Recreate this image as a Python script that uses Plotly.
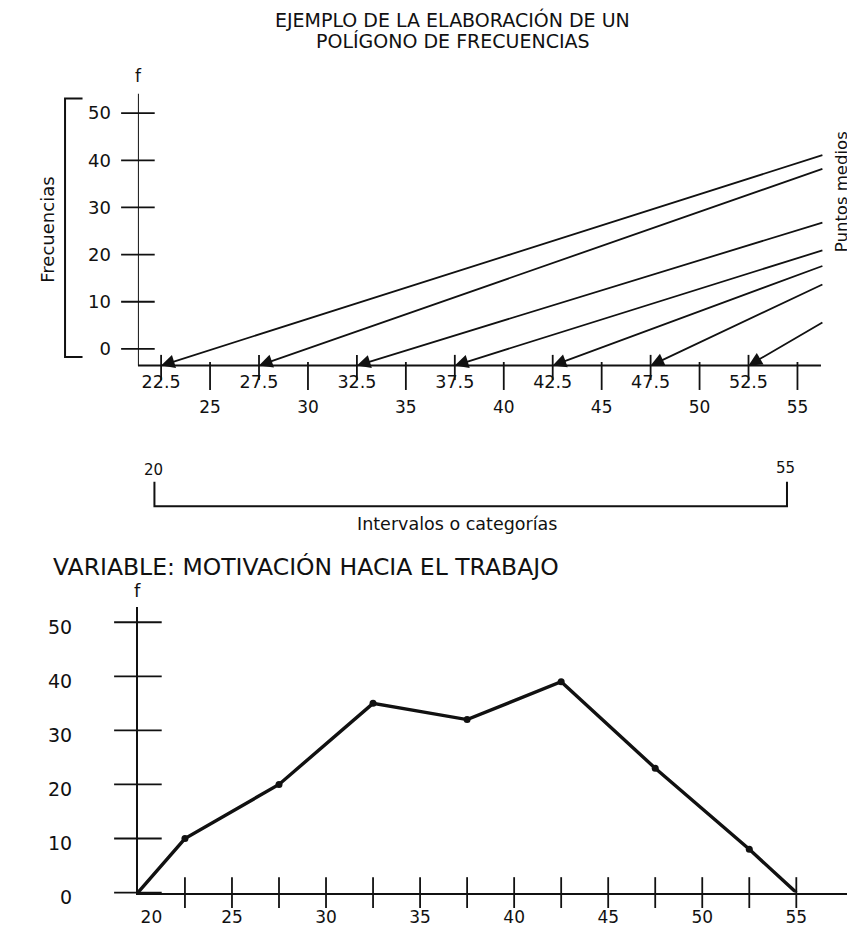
import plotly.graph_objects as go

# --- upper diagram: class limits, midpoints and the pointer lines ---
limites = [25, 30, 35, 40, 45, 50, 55]
puntos_medios = [22.5, 27.5, 32.5, 37.5, 42.5, 47.5, 52.5]
etiquetas_medios = ["22.5", "27.5", "32.5", "37.5", "42.5", "47.5", "52.5"]
# f-level where each pointer line leaves on the right side
alturas_flecha = [41.2, 38.3, 26.9, 21.0, 17.7, 13.8, 5.8]
f_ticks = [0, 10, 20, 30, 40, 50]

# --- lower diagram: frequency polygon ---
poligono_x = [20, 22.5, 27.5, 32.5, 37.5, 42.5, 47.5, 52.5, 55]
poligono_f = [0, 10, 20, 35, 32, 39, 23, 8, 0]
marcas_x = [20, 25, 30, 35, 40, 45, 50, 55]

# page has an 8px body margin, so the figure is 8px smaller each way
OFF = 8
W, H = 855 - OFF, 942 - OFF
NEGRO = "#111111"
FUENTE = "DejaVu Sans, Liberation Sans, Arial, sans-serif"


def py(px):
    # pixel row on the page -> paper fraction
    return 1 - (px - OFF) / H


def pxx(px):
    return (px - OFF) / W


fig = go.Figure()

# upper axes: x-axis baseline at f = -3.54
x0_sup, x1_sup = 21.315, 56.2
y_eje, y_top = -3.54, 54.17
x_fin = 56.35


def linea(xs, ys, eje_x, eje_y, ancho=2):
    fig.add_trace(go.Scatter(
        x=xs, y=ys, mode="lines", line=dict(color=NEGRO, width=ancho),
        cliponaxis=False, hoverinfo="skip", showlegend=False,
        xaxis=eje_x, yaxis=eje_y))


def marcas(xs, ys, simbolo, size, eje_x, eje_y):
    fig.add_trace(go.Scatter(
        x=xs, y=ys, mode="markers",
        marker=dict(symbol=simbolo, size=size, line=dict(width=1.8, color=NEGRO)),
        cliponaxis=False, hoverinfo="skip", showlegend=False,
        xaxis=eje_x, yaxis=eje_y))


def rotulos(xs, ys, textos, size, eje_x, eje_y):
    fig.add_trace(go.Scatter(
        x=xs, y=ys, mode="text", text=textos,
        textfont=dict(size=size, color=NEGRO, family=FUENTE),
        cliponaxis=False, hoverinfo="skip", showlegend=False,
        xaxis=eje_x, yaxis=eje_y))


linea([x0_sup, x0_sup], [y_eje, y_top], "x", "y")
linea([x0_sup, x1_sup], [y_eje, y_eje], "x", "y")
marcas([x0_sup] * len(f_ticks), f_ticks, "line-ew", 24, "x", "y")
marcas(limites, [y_eje - 2.2] * len(limites), "line-ns", 20, "x", "y")
marcas(puntos_medios, [y_eje - 0.4] * len(puntos_medios), "line-ns", 18, "x", "y")
rotulos(puntos_medios, [-7.3] * len(puntos_medios), etiquetas_medios, 17.5, "x", "y")
rotulos(limites, [-12.6] * len(limites), [str(v) for v in limites], 17, "x", "y")

for m, h in zip(puntos_medios, alturas_flecha):
    fig.add_annotation(
        x=m, y=y_eje, ax=x_fin, ay=h, xref="x", yref="y", axref="x", ayref="y",
        text="", showarrow=True, arrowhead=2, arrowsize=1.5, arrowwidth=1.8,
        arrowcolor=NEGRO)

# lower axes
marcas([20] * len(f_ticks), f_ticks, "line-ew", 34, "x2", "y2")
marcas(marcas_x[1:] + puntos_medios, [0] * (len(marcas_x) - 1 + len(puntos_medios)),
       "line-ns", 22, "x2", "y2")

fig.add_trace(go.Scatter(
    x=poligono_x, y=poligono_f, mode="lines",
    line=dict(color=NEGRO, width=3.4), cliponaxis=False,
    showlegend=False, xaxis="x2", yaxis="y2"))
fig.add_trace(go.Scatter(
    x=poligono_x[1:-1], y=poligono_f[1:-1], mode="markers",
    marker=dict(color=NEGRO, size=7), cliponaxis=False,
    showlegend=False, xaxis="x2", yaxis="y2"))

# the "20" under the origin sits a little to the right of the f axis
texto_x2 = ["\u00a0" * 5 + str(marcas_x[0])] + [str(v) for v in marcas_x[1:]]

base = dict(showgrid=False, zeroline=False, ticks="", fixedrange=True)

fig.update_layout(
    width=W, height=H,
    margin=dict(l=0, r=0, t=0, b=0),
    paper_bgcolor="white", plot_bgcolor="white",
    font=dict(family=FUENTE, color=NEGRO),
    xaxis=dict(domain=[pxx(117), pxx(825)], range=[x0_sup, 56.45],
               visible=False, anchor="y", **base),
    yaxis=dict(domain=[py(422), py(95)], range=[-14, y_top], anchor="x",
               showline=False, tickvals=f_ticks, tickfont=dict(size=18),
               ticklabelstandoff=26, **base),
    xaxis2=dict(domain=[pxx(117), 1.0], range=[20, 58.12], anchor="y2",
                showline=True, linecolor=NEGRO, linewidth=2,
                tickvals=marcas_x, ticktext=texto_x2, tickfont=dict(size=17),
                ticklabelstandoff=8, **base),
    yaxis2=dict(domain=[py(908), py(617)], range=[0, 52.9], anchor="x2",
                showline=True, linecolor=NEGRO, linewidth=2,
                tickvals=f_ticks, tickfont=dict(size=19), ticklabelstandoff=60,
                ticklabelshift=5, **base),
)

# free text
textos = [
    ("EJEMPLO DE LA ELABORACIÓN DE UN", 441, 20, 19, 0, "center"),
    ("POLÍGONO DE FRECUENCIAS", 441, 42, 19, 0, "center"),
    ("f", 118, 77, 17, 0, "center"),
    ("Frecuencias", 24, 234, 18, -90, "center"),
    ("Puntos medios", 841, 195, 16.5, -90, "center"),
    ("20", 133, 478, 15, 0, "center"),
    ("55", 783, 476, 15, 0, "center"),
    ("Intervalos o categorías", 445, 533, 17.5, 0, "center"),
    ("VARIABLE: MOTIVACIÓN HACIA EL TRABAJO", 28, 577, 23.5, 0, "left"),
    ("f", 117, 601, 18, 0, "center"),
]
for t, x, y, s, ang, anc in textos:
    fig.add_annotation(text=t, x=pxx(x), y=py(y), xref="paper", yref="paper",
                       showarrow=False, textangle=ang, xanchor=anc, yanchor="middle",
                       font=dict(size=s, color=NEGRO, family=FUENTE))

# brackets
fig.add_shape(type="path", xref="paper", yref="paper",
              path=f"M {pxx(60)},{py(100)} L {pxx(42)},{py(100)} L {pxx(42)},{py(363)} L {pxx(60)},{py(363)}",
              line=dict(color=NEGRO, width=2))
fig.add_shape(type="path", xref="paper", yref="paper",
              path=f"M {pxx(134)},{py(490)} L {pxx(134)},{py(515)} L {pxx(785)},{py(515)} L {pxx(785)},{py(490)}",
              line=dict(color=NEGRO, width=2))

fig.write_html("out.html")
